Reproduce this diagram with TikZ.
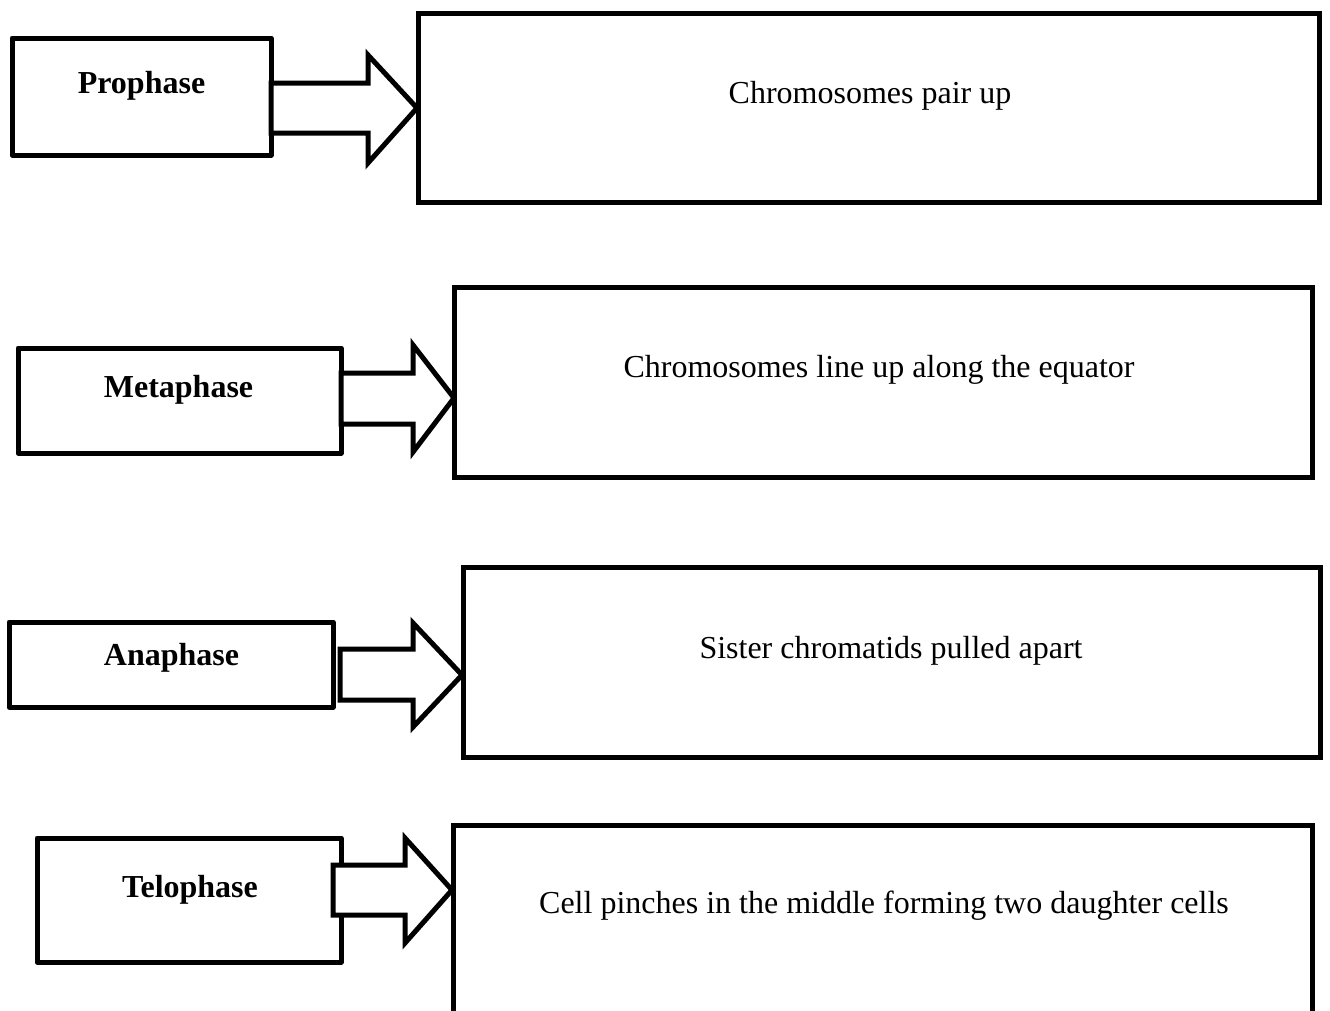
\documentclass[tikz,border=0pt]{standalone}
\usepackage{fontspec}
\setmainfont{Liberation Serif}
\begin{document}
\begin{tikzpicture}[x=1pt,y=-1pt,
  phasebox/.style={draw,line width=5pt,rectangle,inner sep=0pt,line join=round},
  stepbox/.style={draw,line width=5pt,rectangle,inner sep=0pt},
  blockarrow/.style={draw,fill=white,line width=5pt,line join=miter},
  phaselabel/.style={font=\fontsize{32}{38}\selectfont\bfseries,anchor=base,inner sep=0pt},
  steptext/.style={font=\fontsize{32}{38}\selectfont,anchor=base,inner sep=0pt}]
\fill[white] (0,0) rectangle (1330,1010);
\useasboundingbox (0,0) rectangle (1330,1010);

% phase boxes on the left
\node[phasebox,minimum width=259pt,minimum height=117pt] (pro) at (141.5,96.5) {};
\node[phasebox,minimum width=323pt,minimum height=105pt] (meta) at (179.5,400.5) {};
\node[phasebox,minimum width=324pt,minimum height=85pt] (ana) at (171,664.5) {};
\node[phasebox,minimum width=304pt,minimum height=124pt] (telo) at (189,900) {};

% block arrows
\draw[blockarrow] (271,83) coordinate (a1) -- (368,83) -- (368,55) -- (417,108) coordinate (t1)
  -- (368,163) -- (368,133) -- (271,133) -- cycle;
\draw[blockarrow] (341,373) coordinate (a2) -- (413,373) -- (413,345) -- (454,398) coordinate (t2)
  -- (413,452) -- (413,424) -- (341,424) -- cycle;
\draw[blockarrow] (340,649) coordinate (a3) -- (413,649) -- (413,623) -- (462,675) coordinate (t3)
  -- (413,727) -- (413,700) -- (340,700) -- cycle;
\draw[blockarrow] (333,865) coordinate (a4) -- (405,865) -- (405,838) -- (452,890) coordinate (t4)
  -- (405,943) -- (405,915) -- (333,915) -- cycle;

% description boxes on the right
\node[stepbox,minimum width=901pt,minimum height=189pt] (d1) at (868.5,107.5) {};
\node[stepbox,minimum width=858pt,minimum height=190pt] (d2) at (883,382) {};
\node[stepbox,minimum width=857pt,minimum height=190pt] (d3) at (891.5,662) {};
\node[stepbox,minimum width=859pt,minimum height=275pt] (d4) at (882.5,962.5) {};

% phase names
\node[phaselabel] (lpro) at (141.5,93) {Prophase};
\node[phaselabel] (lmeta) at (178.5,397) {Metaphase};
\node[phaselabel] (lana) at (171.5,665) {Anaphase};
\node[phaselabel] (ltelo) at (190,897) {Telophase};

% descriptions
\node[steptext] (s1) at (870,103) {Chromosomes pair up};
\node[steptext] (s2) at (879,377) {Chromosomes line up along the equator};
\node[steptext] (s3) at (891,658) {Sister chromatids pulled apart};
\node[steptext] (s4) at (884,913) {Cell pinches in the middle forming two daughter cells};
\end{tikzpicture}
\end{document}
